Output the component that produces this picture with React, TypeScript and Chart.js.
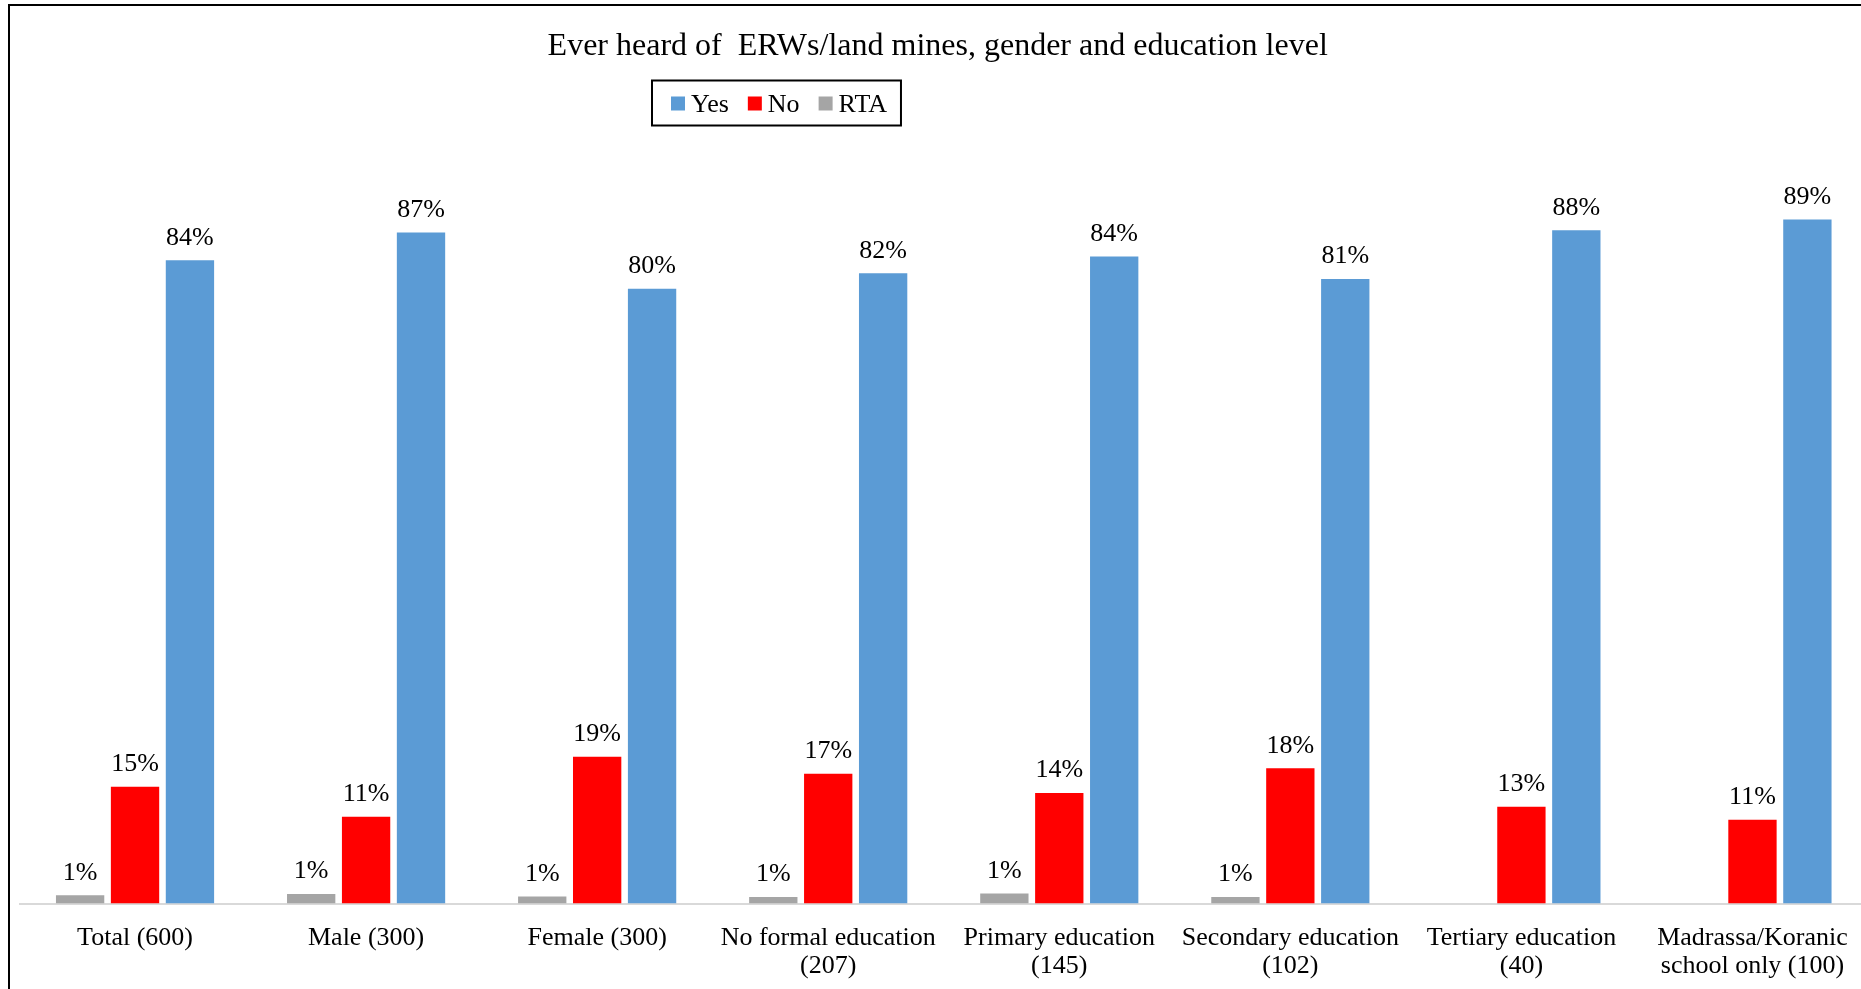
import { useEffect, useRef } from "react";
import { Chart, registerables } from "chart.js";

Chart.register(...registerables);

const FONT = '"Liberation Serif", "Times New Roman", serif';

const categories: (string | string[])[] = [
  "Total (600)",
  "Male (300)",
  "Female (300)",
  ["No formal education", "(207)"],
  ["Primary education", "(145)"],
  ["Secondary education", "(102)"],
  ["Tertiary education", "(40)"],
  ["Madrassa/Koranic", "school only (100)"],
];

const yesValues = [83.7, 87.3, 80.0, 82.0, 84.2, 81.25, 87.6, 89.0];
const noValues = [15.2, 11.3, 19.1, 16.9, 14.4, 17.6, 12.6, 10.9];
const rtaValues = [1.08, 1.26, 0.93, 0.87, 1.3, 0.87, 0, 0];

const seriesNames = ["Yes", "No", "RTA"];
const seriesColors = ["#5B9BD5", "#FF0000", "#A5A5A5"];

const titleText = "Ever heard of  ERWs/land mines, gender and education level";
const yMin = 0;
const yMax = 100;

const framePlugin = {
  id: "frame",
  afterDraw(chart: any) {
    const ctx = chart.ctx;
    ctx.save();
    ctx.strokeStyle = "#000";
    ctx.lineWidth = 2;
    ctx.strokeRect(9, 5, 4000, 4000);
    ctx.restore();
  },
};

const titlePlugin = {
  id: "centerTitle",
  afterDraw(chart: any) {
    const ctx = chart.ctx;
    ctx.save();
    ctx.font = `32px ${FONT}`;
    ctx.fillStyle = "#000";
    ctx.textAlign = "center";
    ctx.textBaseline = "middle";
    ctx.fillText(titleText, 937.7, 46.4);
    ctx.restore();
  },
};

const dataLabelPlugin = {
  id: "dataLabels",
  afterDatasetsDraw(chart: any) {
    const ctx = chart.ctx;
    ctx.save();
    ctx.font = `26px ${FONT}`;
    ctx.fillStyle = "#000";
    ctx.textAlign = "center";
    ctx.textBaseline = "middle";
    chart.data.datasets.forEach((ds: any, i: number) => {
      const meta = chart.getDatasetMeta(i);
      meta.data.forEach((bar: any, j: number) => {
        const v = ds.data[j] as number;
        if (!v) return;
        ctx.fillText(Math.round(v) + "%", bar.x, bar.y - 22.6);
      });
    });
    ctx.restore();
  },
};

const boxLegendPlugin = {
  id: "boxLegend",
  afterDraw(chart: any) {
    const ctx = chart.ctx;
    const boxLeft = 652;
    const boxTop = 80.5;
    const boxHeight = 45;
    const cy = boxTop + boxHeight / 2 + 0.5;
    ctx.save();
    ctx.font = `26px ${FONT}`;
    ctx.textAlign = "left";
    ctx.textBaseline = "middle";
    let x = boxLeft + 19;
    const items = [...chart.data.datasets].reverse();
    items.forEach((ds: any, k: number) => {
      ctx.fillStyle = ds.backgroundColor;
      ctx.fillRect(x, cy - 7, 14, 14);
      x += 14 + 6;
      ctx.fillStyle = "#000";
      ctx.fillText(ds.label, x, cy + 1.5);
      x += ctx.measureText(ds.label).width;
      if (k < items.length - 1) x += 19;
    });
    const boxRight = x + 14;
    ctx.strokeStyle = "#000";
    ctx.lineWidth = 2;
    ctx.strokeRect(boxLeft, boxTop, boxRight - boxLeft, boxHeight);
    ctx.restore();
  },
};

export default function App() {
  const canvasRef = useRef<HTMLCanvasElement | null>(null);

  useEffect(() => {
    document.body.style.margin = "0";
    const canvas = canvasRef.current;
    if (!canvas) return;
    const seriesValues = [yesValues, noValues, rtaValues];
    const order = [2, 1, 0];
    const chart = new Chart(canvas, {
      type: "bar",
      data: {
        labels: categories,
        datasets: order.map((k) => ({
          label: seriesNames[k],
          data: seriesValues[k],
          backgroundColor: seriesColors[k],
          borderWidth: 0,
          categoryPercentage: 0.713,
          barPercentage: 0.88,
        })),
      },
      options: {
        responsive: false,
        animation: false,
        events: [],
        layout: { padding: { left: 19.5, right: 0, top: 135, bottom: 0 } },
        plugins: {
          legend: { display: false },
          tooltip: { enabled: false },
          title: { display: false },
        },
        scales: {
          x: {
            grid: { display: false, drawTicks: false },
            border: { display: true, color: "#D9D9D9", width: 2 },
            ticks: {
              color: "#000",
              font: { family: FONT, size: 26, lineHeight: 1.1 },
              padding: 20.1,
              maxRotation: 0,
              autoSkip: false,
            },
          },
          y: {
            display: false,
            min: yMin,
            max: yMax,
          },
        },
      },
      plugins: [framePlugin, titlePlugin, dataLabelPlugin, boxLegendPlugin],
    });
    return () => chart.destroy();
  }, []);

  return (
    <div style={{ width: 1861, height: 989, overflow: "hidden", position: "relative", background: "#fff" }}>
      <canvas ref={canvasRef} width={1868} height={1001.5} style={{ display: "block" }} />
    </div>
  );
}
